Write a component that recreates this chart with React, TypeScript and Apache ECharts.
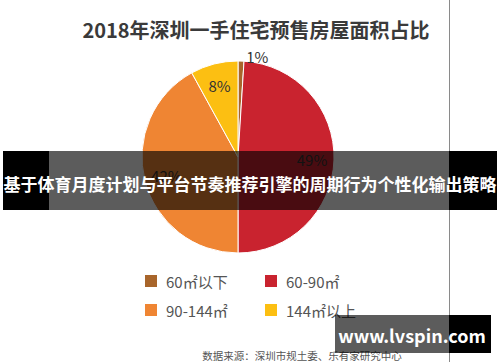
import React, { useEffect, useRef } from "react";
import * as echarts from "echarts";

const categories = ["60㎡以下", "60-90㎡", "90-144㎡", "144㎡以上"];
const shares = [1, 49, 42, 8];
const colors = ["#a8652b", "#c9232f", "#ef8533", "#fcbf12"];
const titleText = "2018年深圳一手住宅预售房屋面积占比";
const bannerText = "基于体育月度计划与平台节奏推荐引擎的周期行为个性化输出策略";
const sourceText = "数据来源：深圳市规土委、乐有家研究中心";
const siteText = "www.lvspin.com";

const FONT = "'Noto Sans CJK SC', 'Noto Sans', sans-serif";

export default function App() {
  const ref = useRef<HTMLDivElement>(null);
  useEffect(() => {
    document.body.style.margin = "0";
    const chart = echarts.init(ref.current!, null, { renderer: "svg" });
    const data = categories.map((name, i) => ({
      name,
      value: shares[i],
      itemStyle: { color: colors[i] },
    }));
    const labelData = categories.map((name, i) => ({
      name,
      value: shares[i],
      label: i === 0 ? { position: "outside" } : { position: "inside" },
    }));
    const legendBase = {
      orient: "vertical",
      top: 268,
      itemWidth: 14,
      itemHeight: 14,
      itemGap: 13,
      icon: "rect",
      selectedMode: false,
      textStyle: { fontSize: 15, color: "#555", fontFamily: FONT, padding: [0, 0, 0, 3] },
    };
    chart.setOption({
      animation: false,
      backgroundColor: "#ffffff",
      textStyle: { fontFamily: FONT },
      title: {
        text: titleText,
        left: 251,
        textAlign: "center",
        top: 14,
        textStyle: { fontSize: 20, fontWeight: "bold", color: "#3a3a3a", fontFamily: FONT },
      },
      legend: [
        { ...legendBase, data: [categories[0], categories[2]], left: 138 },
        { ...legendBase, data: [categories[1], categories[3]], left: 258 },
      ],
      series: [
        {
          type: "pie",
          center: [238, 157],
          radius: [0, 96],
          startAngle: 90,
          clockwise: true,
          silent: true,
          label: { show: false },
          labelLine: { show: false },
          itemStyle: { borderColor: "#ffffff", borderWidth: 1 },
          data,
        },
        {
          type: "pie",
          center: [238, 157],
          radius: [46, 96],
          startAngle: 90,
          clockwise: true,
          silent: true,
          itemStyle: { color: "rgba(0,0,0,0)" },
          label: {
            show: true,
            formatter: "{c}%",
            fontSize: 15,
            color: "#333",
            fontFamily: FONT,
          },
          labelLine: { show: false, length: 5, length2: 0 },
          data: labelData,
        },
      ],
      graphic: [
        {
          type: "text",
          x: 302,
          y: 355,
          z: 50,
          style: {
            text: sourceText,
            fontSize: 10.5,
            fill: "#555",
            align: "center",
            verticalAlign: "middle",
            fontFamily: FONT,
          },
        },
        {
          type: "line",
          z: 90,
          shape: { x1: 449.5, y1: 0, x2: 449.5, y2: 362 },
          style: { stroke: "#8a8a8a", lineWidth: 1 },
        },
        {
          type: "rect",
          z: 100,
          shape: { x: 3, y: 151, width: 46, height: 59 },
          style: { fill: "#000" },
        },
        {
          type: "rect",
          z: 100,
          shape: { x: 49, y: 151, width: 400, height: 59 },
          style: { fill: "rgba(0,0,0,0.64)" },
        },
        {
          type: "rect",
          z: 100,
          shape: { x: 449, y: 151, width: 48, height: 59 },
          style: { fill: "#000" },
        },
        {
          type: "text",
          z: 101,
          x: 250,
          y: 183,
          style: {
            text: bannerText,
            fontSize: 17,
            fontWeight: "bold",
            fill: "#fff",
            align: "center",
            verticalAlign: "middle",
            fontFamily: FONT,
          },
        },
        {
          type: "rect",
          z: 100,
          shape: { x: 335, y: 315, width: 114, height: 38 },
          style: { fill: "rgba(0,0,0,0.64)" },
        },
        {
          type: "rect",
          z: 100,
          shape: { x: 449, y: 315, width: 42, height: 38 },
          style: { fill: "#000" },
        },
        {
          type: "text",
          z: 101,
          x: 412,
          y: 335,
          style: {
            text: siteText,
            fontSize: 18,
            fontWeight: "bold",
            fill: "#fff",
            align: "center",
            verticalAlign: "middle",
            fontFamily: FONT,
          },
        },
      ],
    });
    return () => chart.dispose();
  }, []);
  return (
    <div
      ref={ref}
      style={{ position: "absolute", left: 0, top: 0, width: 500, height: 362 }}
    />
  );
}
